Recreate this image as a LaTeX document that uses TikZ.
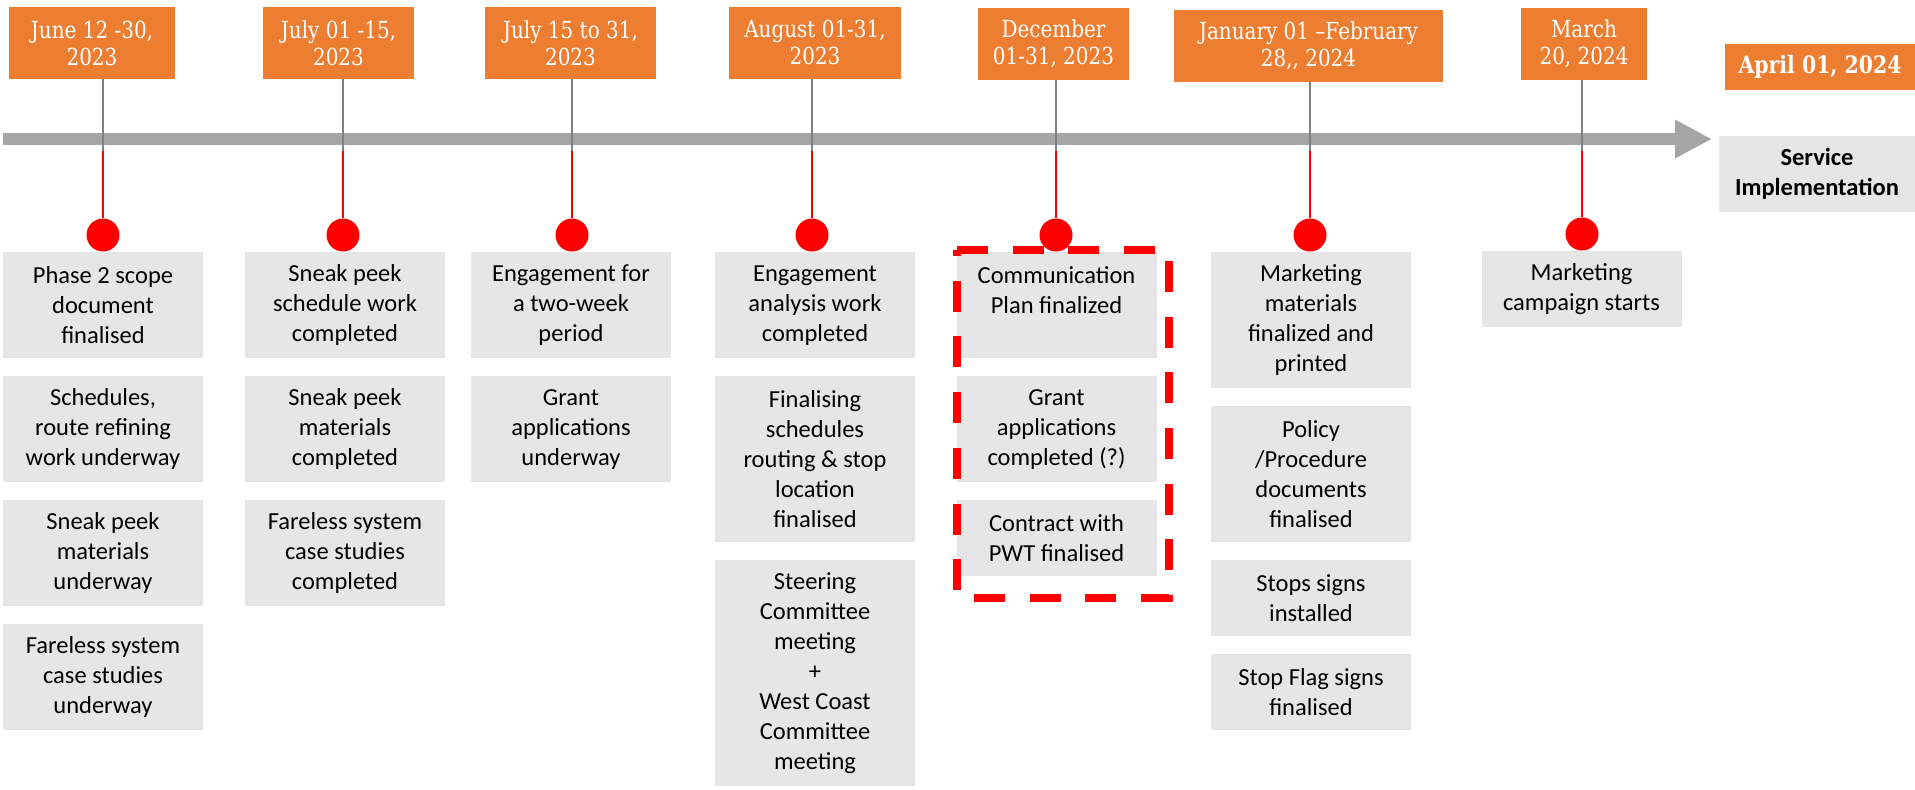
\documentclass[tikz,border=0pt]{standalone}
\usepackage{fontspec}
\setmainfont{Carlito}
\newfontfamily\datefont[FakeStretch=0.85]{DejaVu Serif}
\usetikzlibrary{positioning, arrows.meta}

\definecolor{datebg}{HTML}{ED7D31}
\definecolor{taskbg}{HTML}{E7E6E6}
\definecolor{axisgray}{HTML}{A5A5A5}
\definecolor{stemgray}{HTML}{808080}

\begin{document}
\begin{tikzpicture}[x=0.5pt,y=-0.5pt,node distance=8.5pt,
    datebox/.style={fill=datebg,text=white,align=center,inner sep=0pt,
      minimum height=36pt,font=\datefont\fontsize{11.75pt}{13.5pt}\selectfont},
    task/.style={fill=taskbg,text=black,align=center,inner xsep=2pt,inner ysep=0pt,
      minimum width=100pt,font=\fontsize{12.25pt}{15pt}\selectfont},
    nlines/.style={minimum height=#1*15pt+8pt},
    dot/.style={circle,fill=red,minimum size=16.5pt,inner sep=0pt},
    stem/.style={draw=stemgray,line width=1pt},
    pin/.style={draw=red,line width=1pt},
    axis/.style={draw=axisgray,line width=6pt,-{Triangle[length=18.5pt,width=18pt]}},
    frame/.style={draw=red,line width=3.75pt,dash pattern=on 15.5pt off 12.35pt}]
\useasboundingbox (0,0) rectangle (1915,789);

% timeline
\coordinate (start) at (3,139);
\coordinate (end) at (1712,139);
\coordinate (cut) at (0,151);
\draw[axis] (start) -- (end);

% dates
\node[datebox,minimum width=83pt] (jun) at (92,43) {June 12 -30,\\2023};
\node[datebox,minimum width=75.5pt] (jul) at (338.5,43) {July 01 -15,\\2023};
\node[datebox,minimum width=85.5pt] (jul2) at (570.5,43) {July 15 to 31,\\2023};
\node[datebox,minimum width=86pt] (aug) at (815,42.5) {August 01-31,\\2023};
\node[datebox,minimum width=75.5pt] (dec) at (1053.5,43.5) {December\\01-31, 2023};
\node[datebox,minimum width=134.5pt] (jan) at (1308.5,45.5) {January 01 –February\\28,, 2024};
\node[datebox,minimum width=63pt] (mar) at (1584,44) {March\\20, 2024};
\node[datebox,minimum width=95pt,minimum height=23pt,
  font=\datefont\bfseries\fontsize{12pt}{14pt}\selectfont] (apr) at (1820,67) {April 01, 2024};

% tasks
\node[task,nlines=3,anchor=north] (jun1) at (103,252) {Phase 2 scope\\document\\finalised};
\node[task,nlines=3,below=of jun1] (jun2) {Schedules,\\route refining\\work underway};
\node[task,nlines=3,below=of jun2] (jun3) {Sneak peek\\materials\\underway};
\node[task,nlines=3,below=of jun3] (jun4) {Fareless system\\case studies\\underway};

\node[task,nlines=3,anchor=north] (jul1) at (345,252) {Sneak peek\\schedule work\\completed};
\node[task,nlines=3,below=of jul1] (julb) {Sneak peek\\materials\\completed};
\node[task,nlines=3,below=of julb] (julc) {Fareless system\\case studies\\completed};

\node[task,nlines=3,anchor=north] (jula) at (571,252) {Engagement for\\a two-week\\period};
\node[task,nlines=3,below=of jula] (juld) {Grant\\applications\\underway};

\node[task,nlines=3,anchor=north] (aug1) at (815,252) {Engagement\\analysis work\\completed};
\node[task,nlines=5,below=of aug1] (aug2) {Finalising\\schedules\\routing \& stop\\location\\finalised};
\node[task,nlines=7,below=of aug2] (aug3) {Steering\\Committee\\meeting\\+\\West Coast\\Committee\\meeting};

\node[task,nlines=3,anchor=north] (dec1) at (1056.5,252) {Communication\\Plan finalized\\~};
\node[task,nlines=3,below=of dec1] (dec2) {Grant\\applications\\completed (?)};
\node[task,nlines=2,below=of dec2] (dec3) {Contract with\\PWT finalised};

\node[task,nlines=4,anchor=north] (jan1) at (1311,252) {Marketing\\materials\\finalized and\\printed};
\node[task,nlines=4,below=of jan1] (jan2) {Policy\\/Procedure\\documents\\finalised};
\node[task,nlines=2,below=of jan2] (jan3) {Stops signs\\installed};
\node[task,nlines=2,below=of jan3] (jan4) {Stop Flag signs\\finalised};

\node[task,nlines=2,anchor=north] (mar1) at (1581.5,251) {Marketing\\campaign starts};

\node[task,nlines=2,minimum width=98pt,font=\bfseries\fontsize{12.25pt}{15pt}\selectfont]
  (srv) at (1817,173.5) {Service\\Implementation};

% december group
\draw[frame] (957,250) -- (1169,250) -- (1169,598) -- (957,598) -- cycle;

% milestones
\node[dot] (p1) at (103,235) {};
\node[dot] (p2) at (343,235) {};
\node[dot] (p3) at (572,235) {};
\node[dot] (p4) at (812,235) {};
\node[dot] (p5) at (1056,235) {};
\node[dot] (p6) at (1310,235) {};
\node[dot] (p7) at (1582,234) {};

\path[stem]
  (p1 |- jun.south) edge (p1 |- cut)
  (p2 |- jul.south) edge (p2 |- cut)
  (p3 |- jul2.south) edge (p3 |- cut)
  (p4 |- aug.south) edge (p4 |- cut)
  (p5 |- dec.south) edge (p5 |- cut)
  (p6 |- jan.south) edge (p6 |- cut)
  (p7 |- mar.south) edge (p7 |- cut);

\path[pin]
  (p1 |- cut) edge (p1)
  (p2 |- cut) edge (p2)
  (p3 |- cut) edge (p3)
  (p4 |- cut) edge (p4)
  (p5 |- cut) edge (p5)
  (p6 |- cut) edge (p6)
  (p7 |- cut) edge (p7);
\end{tikzpicture}
\end{document}
